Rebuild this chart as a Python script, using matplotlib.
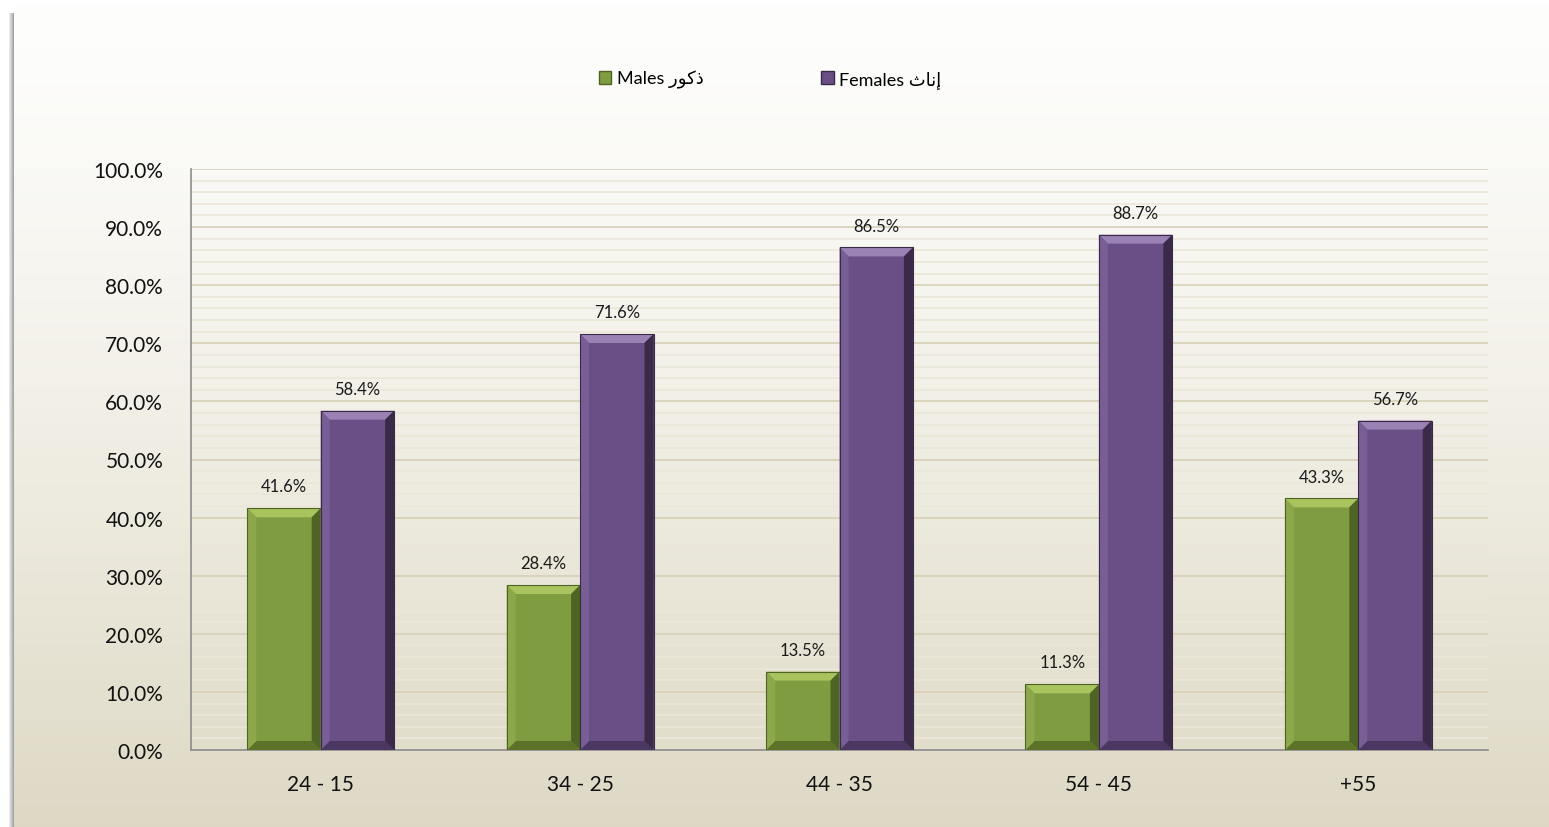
import numpy as np
import matplotlib.pyplot as plt
from matplotlib.patches import Polygon, Rectangle
from matplotlib.ticker import MultipleLocator, FuncFormatter

plt.rcParams['font.family'] = ['Lato', 'DejaVu Sans']

categories = ['24 - 15', '34 - 25', '44 - 35', '54 - 45', '+55']
males = [41.6, 28.4, 13.5, 11.3, 43.3]
females = [58.4, 71.6, 86.5, 88.7, 56.7]

# Arabic words in presentation forms, visual order (matplotlib does no shaping)
males_label = 'Males ' + '\uFEAD\uFEEE\uFEDB\uFEAB'
females_label = 'Females ' + '\uFE99\uFE8E\uFEE7\uFE87'

green = {'face': '#7f9c41', 'top': '#a9c35f', 'left': '#8ca84b', 'right': '#4f6324', 'bottom': '#5c7229'}
purple = {'face': '#6a4f86', 'top': '#9a82b4', 'left': '#775e94', 'right': '#3a2a48', 'bottom': '#4b3862'}

W, H = 1549, 828
fig = plt.figure(figsize=(W / 100, H / 100), dpi=100)
fig.patch.set_facecolor('white')

# background with vertical gradient and a left shadow
bg = fig.add_axes([14 / W, 0, 1 - 14 / W, 1 - 6 / H], zorder=-10)
grad = np.linspace(0, 1, 256).reshape(-1, 1)
top_c = np.array([0.995, 0.995, 0.99])
bot_c = np.array([0.87, 0.85, 0.77])
img = top_c + (bot_c - top_c) * grad ** 1.3
bg.imshow(img[:, None, :].repeat(2, axis=1), aspect='auto', extent=[0, 1, 0, 1], origin='upper')
bg.set_axis_off()
sh = fig.add_axes([9 / W, 0, 6 / W, 1 - 14 / H], zorder=-11)
sh.imshow(np.linspace(0.95, 0.55, 32).reshape(1, -1), cmap='gray', vmin=0, vmax=1,
          aspect='auto', extent=[0, 1, 0, 1])
sh.set_axis_off()

ax = fig.add_axes([191 / W, 77 / H, (1488 - 191) / W, (751 - 170) / H])
ax.patch.set_alpha(0)

x = np.arange(len(categories))
bw = 0.283
bars_m = ax.bar(x - bw / 2, males, bw, color=green['face'], zorder=3)
bars_f = ax.bar(x + bw / 2, females, bw, color=purple['face'], zorder=3)

ax.set_xlim(-0.5, len(categories) - 0.5)
ax.set_ylim(0, 100)

ax.yaxis.set_major_locator(MultipleLocator(10))
ax.yaxis.set_minor_locator(MultipleLocator(2))
ax.yaxis.set_major_formatter(FuncFormatter(lambda v, p: f'{v:.1f}%'))
ax.grid(which='major', axis='y', color='#d8d0b6', lw=1.2, zorder=0)
ax.grid(which='minor', axis='y', color='#ebe7d9', lw=1.2, zorder=0)
ax.tick_params(axis='y', which='both', length=0, labelsize=15, pad=20, labelcolor='#111111')
ax.tick_params(axis='x', length=0, labelsize=15, pad=17, labelcolor='#111111')
ax.set_xticks(x)
ax.set_xticklabels(categories)
for s in ['top', 'right']:
    ax.spines[s].set_visible(False)
ax.spines['left'].set_color('#8c8c8c')
ax.spines['bottom'].set_color('#8c8c8c')
ax.spines['left'].set_linewidth(1.2)
ax.spines['bottom'].set_linewidth(1.2)

# bevel size in data units from pixels
bev = 9
dx = (ax.get_xlim()[1] - ax.get_xlim()[0]) / (1488 - 191) * bev
dy = (ax.get_ylim()[1] - ax.get_ylim()[0]) / (751 - 170) * bev


def bevel(bars, pal):
    for r in bars:
        x0, y0 = r.get_x(), r.get_y()
        x1, y1 = x0 + r.get_width(), y0 + r.get_height()
        polys = {
            'top': [(x0, y1), (x1, y1), (x1 - dx, y1 - dy), (x0 + dx, y1 - dy)],
            'bottom': [(x0, y0), (x1, y0), (x1 - dx, y0 + dy), (x0 + dx, y0 + dy)],
            'left': [(x0, y0), (x0, y1), (x0 + dx, y1 - dy), (x0 + dx, y0 + dy)],
            'right': [(x1, y0), (x1, y1), (x1 - dx, y1 - dy), (x1 - dx, y0 + dy)],
        }
        for k, pts in polys.items():
            ax.add_patch(Polygon(pts, closed=True, facecolor=pal[k], edgecolor='none', zorder=4))
        ax.add_patch(Rectangle((x0, y0), x1 - x0, y1 - y0, fill=False,
                               edgecolor=pal['right'], lw=0.8, zorder=5))


bevel(bars_m, green)
bevel(bars_f, purple)

for bars, vals in [(bars_m, males), (bars_f, females)]:
    for r, v in zip(bars, vals):
        ax.annotate(f'{v:.1f}%', (r.get_x() + r.get_width() / 2, v), xytext=(0, 10),
                    textcoords='offset points', ha='center', va='bottom',
                    fontsize=12, color='#1a1a1a')

handles = [Rectangle((0, 0), 1, 1, facecolor=green['face'], edgecolor=green['right']),
           Rectangle((0, 0), 1, 1, facecolor=purple['face'], edgecolor=purple['right'])]
fig.legend(handles, [males_label, females_label], loc='center', bbox_to_anchor=(770 / W, 1 - 80 / H),
           ncol=2, frameon=False, fontsize=13, handlelength=0.7, handleheight=0.7,
           handletextpad=0.3, columnspacing=6.5)

fig.savefig('out.png', dpi=100)
